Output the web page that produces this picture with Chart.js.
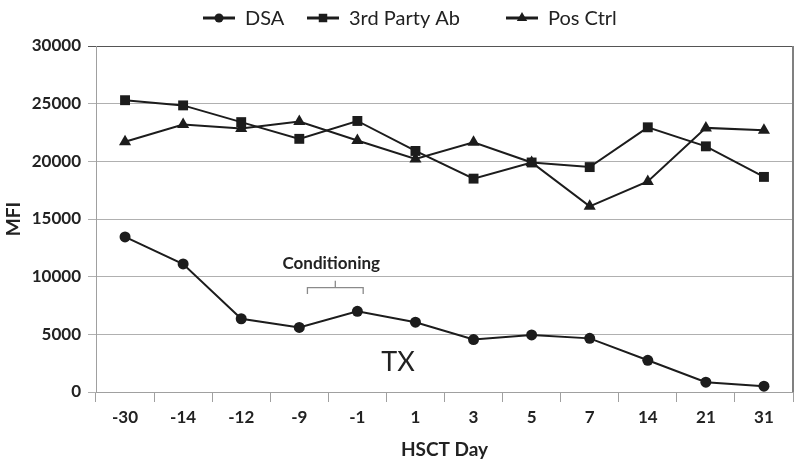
<!DOCTYPE html>
<html>
<head>
<meta charset="utf-8">
<script src="https://cdn.jsdelivr.net/npm/chart.js@4"></script>
<style>
  html, body { margin: 0; padding: 0; background: #fff; }
  #wrap { width: 800px; height: 465px; }
</style>
</head>
<body>
<div id="wrap"><canvas id="mfiChart" width="800" height="465"></canvas></div>
<script>
// values
const days = ['-30', '-14', '-12', '-9', '-1', '1', '3', '5', '7', '14', '21', '31'];
const dsa = [13450, 11100, 6350, 5600, 7000, 6050, 4550, 4950, 4650, 2750, 850, 500];
const thirdParty = [25300, 24850, 23400, 21950, 23500, 20900, 18500, 19900, 19500, 22950, 21300, 18650];
const posCtrl = [21700, 23200, 22850, 23450, 21800, 20200, 21650, 19900, 16100, 18250, 22900, 22700];
const seriesNames = ['DSA', '3rd Party Ab', 'Pos Ctrl'];
const markerStyles = ['circle', 'rect', 'triangle'];
const yMax = 30000;
const yStep = 5000;

const FONT = 'Lato, "Open Sans", sans-serif';
const INK = '#1c1c1c';

// legend with line + marker, drawn above the plot
const lineLegend = {
    id: 'lineLegend',
    afterDraw(chart) {
        const ctx = chart.ctx;
        const starts = [203, 307, 506];
        const y = 18;
        ctx.save();
        chart.data.datasets.forEach((ds, i) => {
            const x0 = starts[i];
            ctx.strokeStyle = INK;
            ctx.lineWidth = 3;
            ctx.beginPath();
            ctx.moveTo(x0, y);
            ctx.lineTo(x0 + 32, y);
            ctx.stroke();
            ctx.fillStyle = INK;
            Chart.helpers.drawPoint(ctx, { pointStyle: ds.pointStyle, radius: ds.pointStyle === 'circle' ? 4.5 : 6, borderWidth: 0 }, x0 + 16, y);
            ctx.fillStyle = '#222';
            ctx.font = '20px ' + FONT;
            ctx.textBaseline = 'middle';
            ctx.textAlign = 'left';
            ctx.fillText(ds.label, x0 + 42, y + 1);
        });
        ctx.restore();
    }
};

// right border of the plot, conditioning bracket and TX label
const annotations = {
    id: 'annotations',
    afterDraw(chart) {
        const { ctx, chartArea, scales } = chart;
        const x = scales.x, y = scales.y;
        ctx.save();
        ctx.strokeStyle = '#808080';
        ctx.lineWidth = 2;
        ctx.beginPath();
        ctx.moveTo(chartArea.right, chartArea.top);
        ctx.lineTo(chartArea.right, chartArea.bottom);
        ctx.stroke();

        const bx0 = x.getPixelForValue(3.14), bx1 = x.getPixelForValue(4.1), bmid = x.getPixelForValue(3.62);
        const by = y.getPixelForValue(9050), bEnd = y.getPixelForValue(8500), bTip = y.getPixelForValue(9650);
        ctx.strokeStyle = '#8a8a8a';
        ctx.lineWidth = 1.3;
        ctx.beginPath();
        ctx.moveTo(bx0, bEnd);
        ctx.lineTo(bx0, by);
        ctx.lineTo(bx1, by);
        ctx.lineTo(bx1, bEnd);
        ctx.moveTo(bmid, by);
        ctx.lineTo(bmid, bTip);
        ctx.stroke();

        ctx.fillStyle = '#222';
        ctx.textAlign = 'center';
        ctx.textBaseline = 'middle';
        ctx.font = 'bold 17px ' + FONT;
        ctx.fillText('Conditioning', x.getPixelForValue(3.55), y.getPixelForValue(11150));
        ctx.font = '27px ' + FONT;
        ctx.fillText('TX', x.getPixelForValue(4.7), y.getPixelForValue(2550));
        ctx.restore();
    }
};

function makeSet(label, data, style) {
    return {
        label: label,
        data: data,
        borderColor: INK,
        backgroundColor: INK,
        borderWidth: 2,
        pointStyle: style,
        pointRadius: style === 'circle' ? 5.5 : 7,
        pointBorderWidth: 0,
        tension: 0,
    };
}

new Chart(document.getElementById('mfiChart').getContext('2d'), {
    type: 'line',
    data: {
        labels: days,
        datasets: [
            makeSet(seriesNames[0], dsa, markerStyles[0]),
            makeSet(seriesNames[1], thirdParty, markerStyles[1]),
            makeSet(seriesNames[2], posCtrl, markerStyles[2]),
        ],
    },
    options: {
        responsive: false,
        animation: false,
        layout: { padding: { top: 46, right: 4, left: 0, bottom: 0 } },
        plugins: {
            legend: { display: false },
            tooltip: { enabled: false },
        },
        scales: {
            x: {
                offset: true,
                afterFit(scale) { scale.height = 73; },
                grid: {
                    offset: true,
                    drawOnChartArea: false,
                    drawTicks: true,
                    tickLength: 10,
                    color: '#a0a0a0',
                },
                border: { color: '#a0a0a0' },
                ticks: {
                    color: '#222',
                    padding: 5,
                    font: { family: FONT, size: 17, weight: 'bold' },
                },
                title: {
                    display: true,
                    text: 'HSCT Day',
                    color: '#222',
                    font: { family: FONT, size: 19, weight: 'bold' },
                    padding: { top: 0, bottom: 4 },
                },
            },
            y: {
                min: 0,
                max: yMax,
                afterFit(scale) { scale.width = 96; },
                grid: {
                    color: (c) => (c.tick && c.tick.value === yMax ? '#555' : '#b0b0b0'),
                    lineWidth: 1,
                    tickLength: 8,
                },
                border: { color: '#a0a0a0' },
                ticks: {
                    stepSize: yStep,
                    color: '#222',
                    padding: 7,
                    callback: (v) => String(v),
                    font: { family: FONT, size: 17, weight: 'bold' },
                },
                title: {
                    display: true,
                    text: 'MFI',
                    color: '#222',
                    font: { family: FONT, size: 19, weight: 'bold' },
                    padding: { top: 2, bottom: 0 },
                },
            },
        },
    },
    plugins: [lineLegend, annotations],
});
</script>
</body>
</html>
